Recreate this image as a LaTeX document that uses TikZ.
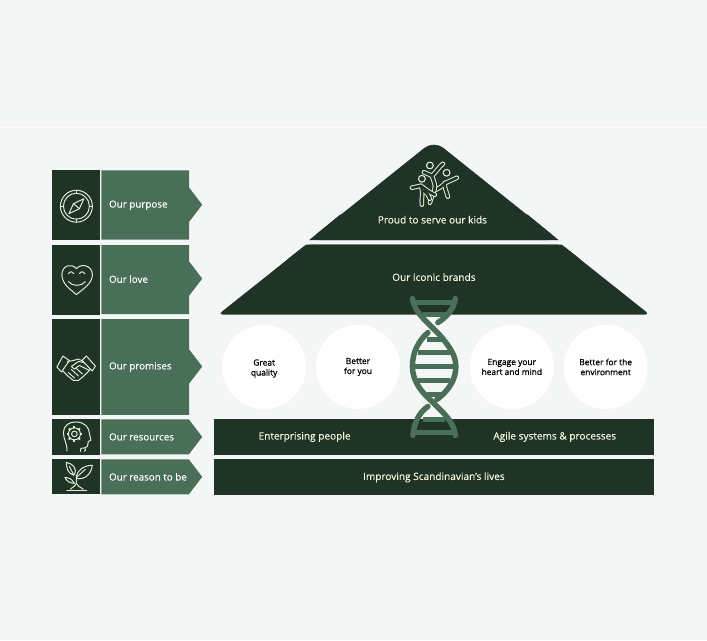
\documentclass[tikz,border=0pt]{standalone}
\usepackage{fontspec}
\setmainfont[FakeBold=0.12]{Open Sans}
\newfontfamily\circfont[FakeBold=1]{Open Sans}
\definecolor{bgc}{HTML}{F4F6F5}
\definecolor{dark}{HTML}{1F3327}
\definecolor{midg}{HTML}{4A6F58}
\definecolor{pale}{HTML}{DCEFD2}
\definecolor{cream}{HTML}{F6F8DC}
\tikzset{
 darkbox/.style={fill=dark,draw=none},
 greenbox/.style={fill=midg,draw=none},
 rowlabel/.style={anchor=west,text=white,font=\fontsize{9.85}{11}\selectfont,inner sep=0pt},
 barlabel/.style={text=cream,font=\fontsize{10.1}{11}\selectfont,inner sep=0pt},
 circ/.style={circle,fill=white,minimum size=84pt,inner sep=0pt},
 circlabel/.style={align=center,text=black,inner sep=0pt,font=\circfont\fontsize{8.4}{10}\selectfont},
 iconline/.style={draw=pale,line width=1pt,line cap=round,line join=round,fill=none},
 strand/.style={draw=midg,line width=5.5pt,line cap=round,line join=round},
 rung/.style={draw=midg,line width=4.5pt},
 kidout/.style={draw=pale,line width=4.6pt,line cap=round,line join=round},
 kidin/.style={draw=dark,line width=2.6pt,line cap=round,line join=round}
}
\begin{document}
\begin{tikzpicture}[x=1pt,y=-1pt]
\fill[bgc] (0,0) rectangle (707,641);
\draw[white!60!bgc,line width=1pt] (0,127.5) -- (707,127.5);
\useasboundingbox (0,0) rectangle (707,641);
% left column
\foreach \a/\b in {170/240.5,245/315,319/416,420/456,460/495}{\fill[darkbox] (52,\a) rectangle (99.5,\b);}
\newcommand{\tagshape}[3]{\fill[greenbox] (101,#1) -- (189,#1) -- (189,#2-17) -- (202,#2) -- (189,#2+17) -- (189,#3) -- (101,#3) -- cycle;}
\tagshape{170.5}{205}{240}
\tagshape{245.5}{279}{314.5}
\tagshape{319.5}{367}{415.5}
\tagshape{420}{437.5}{455}
\tagshape{460}{477.5}{495}
\node[rowlabel] (l1) at (108.5,205.5) {Our purpose};
\node[rowlabel] (l2) at (108.5,279.5) {Our love};
\node[rowlabel] (l3) at (108.5,367.5) {Our promises};
\node[rowlabel] (l4) at (108.5,437.5) {Our resources};
\node[rowlabel] (l5) at (108.5,477.5) {Our reason to be};
% roof
\fill[dark,rounded corners=12pt] (309,240.5) -- (434,140.5) -- (559,240.5) -- cycle;
\fill[dark] (309,240.5) -- (340,215) -- (528,215) -- (559,240.5) -- cycle;
\fill[dark,rounded corners=4.5pt] (306,245) -- (562,245) -- (650,315) -- (218,315) -- cycle;
\fill[dark] (306,245) -- (562,245) -- (581,260) -- (287,260) -- cycle;
\node[barlabel] (t1) at (432.5,220) {Proud to serve our kids};
\node[barlabel] (t2) at (434,277.5) {Our iconic brands};
% circles
\node[circ] (c1) at (264,367.5) {};
\node[circ] (c2) at (358,367.5) {};
\node[circ] (c3) at (512,367.5) {};
\node[circ] (c4) at (606,367.5) {};
\node[circlabel] (c1t) at (264,369) {Great\\quality};
\node[circlabel] (c2t) at (358,367.5) {Better\\for you};
\node[circlabel] (c3t) at (512,367.5) {Engage your\\heart and mind};
\node[circlabel] (c4t) at (606,367.5) {Better for the\\environment};
% bars
\fill[darkbox] (214,420) rectangle (654,456);
\fill[darkbox] (214,460) rectangle (654,495.5);
\node[barlabel] (b1) at (304.5,437.5) {Enterprising people};
\node[barlabel] (b2) at (555,437.5) {Agile systems \& processes};
\node[barlabel] (b3) at (434,478) {Improving Scandinavian's lives};
% DNA
\foreach \y/\a/\b in {303/415/453,315/423/446,340/427/443,353/418/450,367/413/456,381/418/450,395/427/441,420/423/445,433/415/453}{\draw[rung] (\a,\y) -- (\b,\y);}
\draw[strand] (412.5,299) .. controls (415,315) and (430,324) .. (442,338) .. controls (450,348) and (456,356) .. (456,367) .. controls (456,380) and (449,391) .. (437,400);
\draw[strand] (428,407) .. controls (419,413) and (414,424) .. (413,436);
\draw[strand] (455.5,299) .. controls (454,310) and (446,318) .. (438,323);
\draw[strand] (428,333) .. controls (419,341) and (412.5,352) .. (412.5,367) .. controls (412.5,382) and (422,393) .. (432,402) .. controls (443,413) and (454,422) .. (455.5,436);
% icons
\begin{scope}[iconline]
% compass
\draw (76,206.5) circle (16);
\draw (76,206.5) circle (13);
\draw (76,190.5) -- (76,193.5) (76,219.5) -- (76,222.5) (60,206.5) -- (63,206.5) (89,206.5) -- (92,206.5);
\draw (83.5,199) -- (79,209) -- (68.5,214) -- (73,204) -- cycle;
\draw (73,204) -- (79,209);
% heart
\draw (76,295) .. controls (69,289) and (61.5,284) .. (61.5,275) .. controls (61.5,266) and (71,263) .. (76,269) .. controls (81,263) and (92,266) .. (92,275) .. controls (92,284) and (83,289) .. (76,295) -- cycle;
\draw (68,274) .. controls (70,271.5) and (72,271.5) .. (73.5,274);
\draw (79,274) .. controls (81,271.5) and (83,271.5) .. (84.5,274);
\draw (68,282) .. controls (72,287) and (81,287) .. (85,282);
% handshake
\draw (62.5,356.5) -- (69,361) -- (61,372.5) -- (56.5,367.5) -- cycle;
\draw (86,356.5) -- (95,366.5) -- (92,371.5) -- (81.5,361) -- cycle;
\draw (67,362) -- (73,361) -- (78,359.5) -- (83,362);
\draw (62,371) -- (68,377) -- (73,381) -- (78,381) -- (84,376) -- (90,370);
\draw (84,363) -- (78,362) -- (71,367) -- (74,369.5) -- (79,366) -- (89,371);
\draw (68,373) -- (74,378.5);
\draw (71,370) -- (78,376.5);
\draw (76,369) -- (82,374.5);
% head
\draw (66.5,451.5) .. controls (67,444) and (63,440) .. (63,433) .. controls (63,426) and (69,422.5) .. (75.5,422.5) .. controls (84,422.5) and (89,428) .. (89,434) .. controls (89,437) and (91,439) .. (90.5,441) -- (88,442) -- (87,447) .. controls (85,449) and (83,448.5) .. (80.5,449) -- (80,452);
\draw (74,434.5) circle (2.8);
\draw (74,434.5) circle (6);
\foreach \t in {0,45,...,315}{\draw[line width=1.9pt,line cap=butt] (74,434.5) ++(\t:5.6) -- ++(\t:2.2);}
\draw (84,452) .. controls (86,451) and (85.5,450) .. (84.5,449);
% plant
\draw (66.5,491) -- (86.5,491);
\draw (70,490) .. controls (73,487) and (75,487) .. (76,484) -- (76,476);
\draw (83,490) .. controls (79,487) and (77,487) .. (76,484);
\draw (76,478) .. controls (77,470) and (84,466) .. (92,466) .. controls (91,473) and (86,481) .. (76,479);
\draw (76,478) -- (85,470);
\draw (73.5,476) .. controls (67,474) and (66,468) .. (66,463) .. controls (71,464) and (78,468) .. (73.5,476);
\draw (73,475) -- (69,467);
\draw (74,484) .. controls (71,479) and (68,478) .. (64.5,478) .. controls (66,482) and (70,484) .. (74,484);
\end{scope}
% kids
\draw[iconline,line width=1.1pt] (430,165.7) circle (3.4);
\draw[iconline,line width=1.1pt] (446.7,173) circle (3.4);
\draw[iconline,line width=1.1pt] (422,179) circle (3.4);
\foreach \st in {kidout,kidin}{
 \draw[\st] (457,178) -- (446,183) .. controls (443,186) and (440,188) .. (435,190.5);
 \draw[\st] (445,183) .. controls (444,188) and (447,192) .. (448,197);
}
\foreach \st in {kidout,kidin}{
 \draw[\st] (424,172.5) -- (432,176) .. controls (436,173) and (439,167) .. (443,164);
 \draw[\st] (432,176) .. controls (434,182) and (436,186) .. (434.5,190) .. controls (433,195) and (431,199) .. (430,203);
}
\foreach \st in {kidout,kidin}{
 \draw[\st] (412,188) -- (421,186) .. controls (426,190) and (430,193) .. (435,195);
 \draw[\st] (421,186) .. controls (424,192) and (421,199) .. (422,205);
 \draw[\st] (424,191) .. controls (427,193) and (429,196) .. (430,199);
}
\end{tikzpicture}
\end{document}
